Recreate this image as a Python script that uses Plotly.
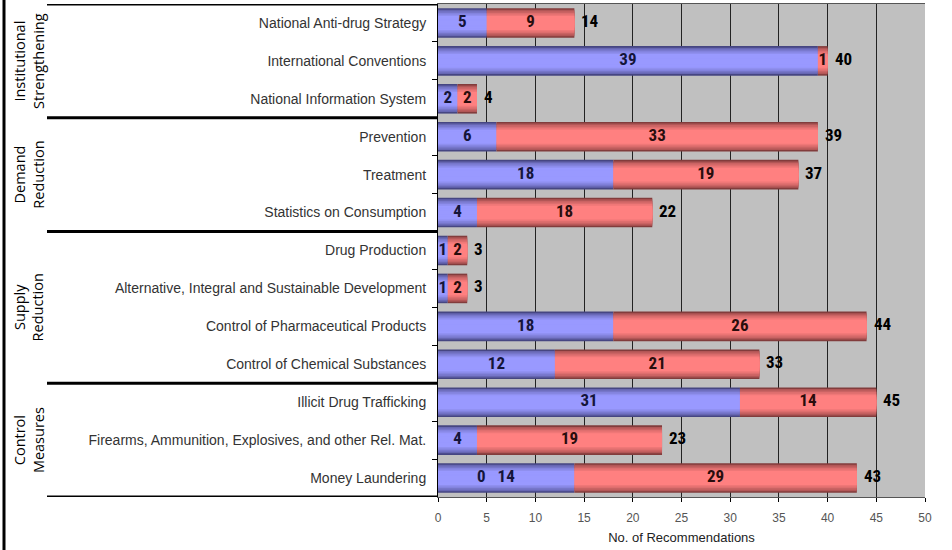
import plotly.graph_objects as go

categories = [
    "National Anti-drug Strategy", "International Conventions", "National Information System",
    "Prevention", "Treatment", "Statistics on Consumption",
    "Drug Production", "Alternative, Integral and Sustainable Development",
    "Control of Pharmaceutical Products", "Control of Chemical Substances",
    "Illicit Drug Trafficking", "Firearms, Ammunition, Explosives, and other Rel. Mat.",
    "Money Laundering",
]
blue_vals = [5, 39, 2, 6, 18, 4, 1, 1, 18, 12, 31, 4, 14]
red_vals = [9, 1, 2, 33, 19, 18, 2, 2, 26, 21, 14, 19, 29]
totals = [14, 40, 4, 39, 37, 22, 3, 3, 44, 33, 45, 23, 43]
groups = [("Institutional<br>Strengthening", 0, 2), ("Demand<br>Reduction", 3, 5),
          ("Supply<br>Reduction", 6, 9), ("Control<br>Measures", 10, 12)]
x_ticks = [0, 5, 10, 15, 20, 25, 30, 35, 40, 45, 50]

fig = go.Figure()

def mix(c1, c2, t):
    return "rgb(%d,%d,%d)" % tuple(round(a + (b - a) * t) for a, b in zip(c1, c2))

blue_edge, blue_mid = (70, 70, 130), (153, 153, 255)
red_edge, red_mid = (130, 60, 60), (255, 128, 128)
n_layers = 9
max_w = 0.78
for k in range(n_layers):
    t = k / (n_layers - 1)
    w = max_w * (1 - 0.85 * t)
    shade = min(1.0, (t * 1.6) ** 0.6)
    fig.add_trace(go.Bar(y=categories, x=blue_vals, orientation="h", width=w,
                         marker=dict(color=mix(blue_edge, blue_mid, shade), line=dict(width=0)),
                         hoverinfo="skip", showlegend=False))
    fig.add_trace(go.Bar(y=categories, x=red_vals, base=blue_vals, orientation="h", width=w,
                         marker=dict(color=mix(red_edge, red_mid, shade), line=dict(width=0)),
                         hoverinfo="skip", showlegend=False))

lab_font = dict(family="Liberation Sans Narrow, Arial Narrow, Roboto Condensed, Liberation Sans",
                size=17, color="#15153a")
fig.add_trace(go.Scatter(y=categories, x=[b / 2 for b in blue_vals], mode="text",
                         text=["<b>%d</b>" % b for b in blue_vals], textfont=lab_font,
                         hoverinfo="skip", showlegend=False))
fig.add_trace(go.Scatter(y=categories, x=[b + r / 2 for b, r in zip(blue_vals, red_vals)], mode="text",
                         text=["<b>%d</b>" % r for r in red_vals],
                         textfont=dict(lab_font, color="#2a0d0d"),
                         hoverinfo="skip", showlegend=False))
for cat, tot in zip(categories, totals):
    fig.add_annotation(x=tot, y=cat, xref="x", yref="y", text="<b>%d</b>" % tot,
                       xanchor="left", xshift=5, yshift=2, showarrow=False,
                       font=dict(lab_font, color="#000000"))
fig.add_annotation(x=4.5, y="Money Laundering", text="<b>0</b>", showarrow=False, yshift=2,
                   font=lab_font, xref="x", yref="y")

plot_l, plot_r = 438, 925
pw = plot_r - plot_l
def px(xpix):
    return (xpix - plot_l) / pw

shapes = []
bounds = [-0.5, 2.5, 5.5, 9.5, 12.5]
for b in bounds:
    shapes.append(dict(type="line", xref="paper", yref="y", x0=px(47), x1=0, y0=b, y1=b,
                       line=dict(color="black", width=3)))
shapes.append(dict(type="line", xref="paper", yref="paper", x0=px(4), x1=px(4), y0=-0.2, y1=1.1,
                   line=dict(color="black", width=3)))
fig.update_layout(shapes=shapes)

for name, a, b in groups:
    fig.add_annotation(xref="paper", yref="y", x=px(29), y=(a + b) / 2, text=name, textangle=-90,
                       xanchor="center", yanchor="middle", showarrow=False,
                       font=dict(family="Open Sans, Liberation Sans", size=14.5, color="black"))

fig.update_layout(
    width=952, height=550,
    margin=dict(l=plot_l, r=952 - plot_r, t=4, b=53, autoexpand=False),
    paper_bgcolor="white", plot_bgcolor="#C0C0C0",
    barmode="overlay",
    xaxis=dict(range=[0, 50], tickvals=x_ticks, showgrid=True, gridcolor="#222222", gridwidth=1,
               zeroline=False, ticks="outside", ticklen=4, tickcolor="black",
               ticklabelstandoff=6,
               tickfont=dict(family="Liberation Sans, Arial", size=12, color="#555555"),
               title=dict(text="No. of Recommendations", standoff=8,
                          font=dict(family="Liberation Sans, Arial", size=13, color="#222222")),
               showline=True, linecolor="#555555", mirror=True, fixedrange=True),
    yaxis=dict(range=[len(categories) - 0.5, -0.5], type="category", showgrid=False, ticks="outside",
               tickson="boundaries", ticklen=5, tickcolor="black", ticklabelstandoff=8,
               tickfont=dict(family="Liberation Sans, Arial", size=14, color="#333333"),
               showline=True, linecolor="black", linewidth=1, fixedrange=True),
)

fig.write_html("out.html", config={"displayModeBar": False},
               post_script="document.body.style.margin='0';")
